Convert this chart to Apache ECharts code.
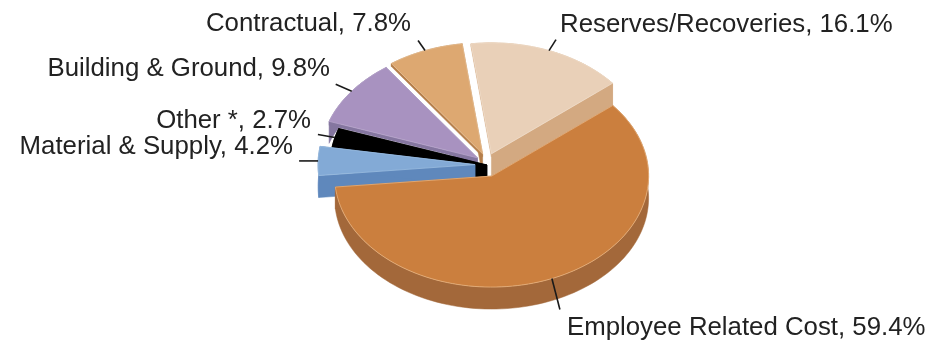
<!DOCTYPE html>
<html>
<head>
<meta charset="utf-8">
<style>html,body{margin:0;padding:0;background:#fff}#c{width:951px;height:344px}</style>
<script src="https://cdn.jsdelivr.net/npm/echarts@6/dist/echarts.min.js"></script>
</head>
<body>
<div id="c"></div>
<script>
// Data, clockwise from the Employee slice
const categories = ['Employee Related Cost', 'Material & Supply', 'Other *', 'Building & Ground', 'Contractual', 'Reserves/Recoveries'];
const values = [59.4, 4.2, 2.7, 9.8, 7.8, 16.1];

// Style and layout
const topColors  = ['#CB7F3E', '#83AAD6', '#000000', '#A892C0', '#DDA871', '#E9D0B8'];
const sideColors = ['#A3683A', '#5F88BC', '#000000', '#8576A0', '#B57E4A', '#D3A981'];
const edgeColors = ['#E9B27E', '#9ABCE0', '#000000', '#B7A4CC', '#E6BE92', '#EFDCC9'];
const explode    = [12, 12, 0, 12, 12, 12];
const drawRank   = [6, 5, 4, 3, 2, 1];
const startFaceDepth = [22, 22, 12, 4, 3, 3];
const leaderTips = [[8, 31], [-19, 0], [-17, -3], [-16, -7], [-7, -10], [7, -11]];
const labelPos   = [[567, 328], [293, 147], [311, 121], [330, 69], [411, 24], [560, 25]];
const labelAlign = ['left', 'right', 'right', 'right', 'right', 'left'];

const CX = 487, CY = 165, RX = 157, RY = 111, DEPTH = 22, BACK_DEPTH = 3, START = 50.5;
const rad = d => d * Math.PI / 180;
const total = values.reduce((a, b) => a + b, 0);
const rimDepth = a => (a > 300 && a < 400) ? BACK_DEPTH : DEPTH;

function renderSlice(params, api) {
  const i = api.value(1);
  const v = api.value(0);
  let before = 0;
  for (let k = 0; k < i; k++) before += values[k];
  const a0 = START + before / total * 360;
  const a1 = a0 + v / total * 360;
  const mid = rad((a0 + a1) / 2);
  const cx = CX + explode[i] * Math.sin(mid);
  const cy = CY - explode[i] * Math.cos(mid);
  const at = (deg, dy) => [cx + RX * Math.sin(rad(deg)), cy - RY * Math.cos(rad(deg)) + dy];

  const arc = [];
  const steps = Math.max(4, Math.ceil((a1 - a0) / 2));
  for (let s = 0; s <= steps; s++) arc.push(a0 + (a1 - a0) * s / steps);

  const topPts = [[cx, cy]].concat(arc.map(a => at(a, 0)));
  const rimPts = arc.map(a => at(a, 0)).concat(arc.slice().reverse().map(a => at(a, rimDepth(a))));
  const face = (deg, d) => [[cx, cy], at(deg, 0), at(deg, d), [cx, cy + d]];
  const z = drawRank[i] * 10;
  const sideStyle = { fill: sideColors[i], stroke: sideColors[i], lineWidth: 0.5 };

  const tip = at((a0 + a1) / 2, 0);
  const off = leaderTips[i];
  const lp = labelPos[i];

  return {
    type: 'group',
    children: [
      { type: 'polygon', z2: z, shape: { points: rimPts }, style: sideStyle, silent: true },
      { type: 'polygon', z2: z, shape: { points: face(a0, startFaceDepth[i]) }, style: sideStyle, silent: true },
      { type: 'polygon', z2: z, shape: { points: face(a1, DEPTH) }, style: sideStyle, silent: true },
      { type: 'polygon', z2: z + 1, shape: { points: topPts },
        style: { fill: topColors[i], stroke: edgeColors[i], lineWidth: 0.8 }, silent: true },
      { type: 'line', z2: 200,
        shape: { x1: tip[0], y1: tip[1], x2: tip[0] + off[0], y2: tip[1] + off[1] },
        style: { stroke: '#1a1a1a', lineWidth: 1.6 }, silent: true },
      { type: 'text', z2: 201, x: lp[0], y: lp[1], silent: true,
        style: {
          text: categories[i] + ', ' + v.toFixed(1) + '%',
          fill: '#222222', font: '25.8px "Liberation Sans", Arial, sans-serif',
          align: labelAlign[i], verticalAlign: 'middle'
        } }
    ]
  };
}

const chart = echarts.init(document.getElementById('c'), null, { renderer: 'canvas' });
chart.setOption({
  backgroundColor: '#ffffff',
  animation: false,
  series: [{
    type: 'custom',
    coordinateSystem: 'none',
    renderItem: renderSlice,
    data: values.map((v, i) => [v, i])
  }]
});
</script>
</body>
</html>
